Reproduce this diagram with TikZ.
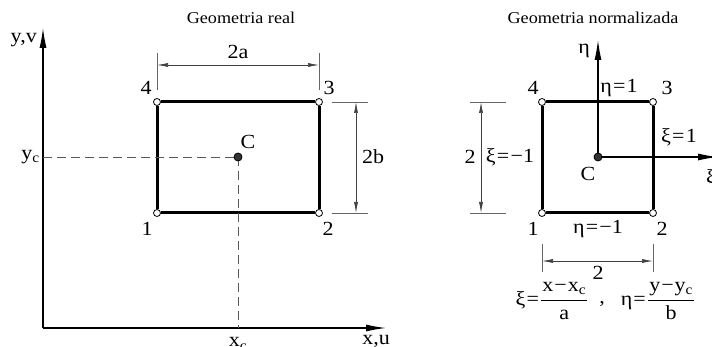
\documentclass[tikz,border=0pt]{standalone}
\usepackage{fontspec}
\setmainfont[FakeStretch=1.1]{Liberation Serif}
\usetikzlibrary{arrows.meta}
\tikzset{
  axis/.style={line width=1.2pt, -{Latex[length=20pt,width=7pt]}},
  edge/.style={line width=3pt},
  dimline/.style={line width=0.7pt, draw=black!75, {Latex[length=11pt,width=4pt]}-{Latex[length=11pt,width=4pt]}},
  ext/.style={line width=0.8pt, draw=black!60},
  dashline/.style={line width=0.9pt, draw=black!65, dash pattern=on 9pt off 5pt},
  corner/.style={circle, draw, fill=white, line width=0.8pt, minimum size=7pt, inner sep=0pt},
  cdot/.style={circle, draw, fill=black!80, line width=0.8pt, minimum size=8pt, inner sep=0pt},
  lab/.style={font=\fontsize{20}{22}\selectfont, inner sep=1pt},
  ttl/.style={font=\fontsize{16.5}{19}\selectfont, inner sep=1pt},
}
\newcommand{\eqk}{\kern1.2pt=\kern1.2pt}
\begin{document}
\begin{tikzpicture}[x=1pt,y=-1pt]
\useasboundingbox (0,0) rectangle (712,347);
% ---------- left: real geometry ----------
\node[ttl] (t1) at (241,18) {Geometria real};
\coordinate (O) at (43,328);
\coordinate (ytop) at (43,28);
\coordinate (xend) at (386,328);
\draw[axis] (O) -- (ytop);
\draw[axis] (O) -- (xend);
\node[lab, anchor=east] (yv) at (38,40) {y,v};
\node[lab] (xu) at (376,341) {x,u};

\node[corner] (r1) at (157,213) {};
\node[corner] (r2) at (319,213) {};
\node[corner] (r3) at (319,102) {};
\node[corner] (r4) at (157,102) {};
\draw[edge] (r1) -- (r2) -- (r3) -- (r4) -- (r1);

\coordinate (ycL) at (43,157);
\coordinate (xcB) at (238,328);
\draw[dashline] (ycL) -- (238,157);
\draw[dashline] (238,157) -- (xcB);
\node[cdot] (rc) at (238,157) {};
\node[lab] (rcl) at (248,142) {C};
\node[lab, anchor=east] (yc) at (41,157) {y\textsubscript{c}};
\node[lab] (xc) at (238,344) {x\textsubscript{c}};

\node[lab] (l4) at (146,88) {4};
\node[lab] (l3) at (329,88) {3};
\node[lab] (l1) at (147,229) {1};
\node[lab] (l2) at (328,229) {2};

% 2a dimension
\coordinate (a1) at (157,53); \coordinate (a1b) at (157,90);
\coordinate (a2) at (319,53); \coordinate (a2b) at (319,90);
\draw[ext] (a1) -- (a1b);
\draw[ext] (a2) -- (a2b);
\draw[dimline] (157,65) -- (319,65);
\node[lab] (d2a) at (238,52) {2a};

% 2b dimension
\coordinate (b1) at (332,102); \coordinate (b1b) at (368,102);
\coordinate (b2) at (332,213); \coordinate (b2b) at (368,213);
\draw[ext] (b1) -- (b1b);
\draw[ext] (b2) -- (b2b);
\draw[dimline] (356,102) -- (356,213);
\node[lab] (d2b) at (373,157) {2b};

% ---------- right: normalized geometry ----------
\node[ttl] (t2) at (593,18) {Geometria normalizada};
\node[corner] (n1) at (542,213) {};
\node[corner] (n2) at (653,213) {};
\node[corner] (n3) at (653,102) {};
\node[corner] (n4) at (542,102) {};
\draw[edge] (n1) -- (n2) -- (n3) -- (n4) -- (n1);

\coordinate (etatop) at (598,40);
\coordinate (xiend) at (718,157);
\draw[axis] (598,157) -- (etatop);
\draw[axis] (598,157) -- (xiend);
\node[cdot] (nc) at (598,157) {};
\node[lab] (ncl) at (588,174) {C};
\node[lab] (eta) at (584,51) {η};
\node[lab] (xi) at (711,178) {ξ};

\node[lab] (m4) at (533,88) {4};
\node[lab] (m3) at (667,88) {3};
\node[lab] (m1) at (533,229) {1};
\node[lab] (m2) at (662,229) {2};
\node[lab] (e1) at (619,88) {η\eqk 1};
\node[lab] (x1) at (679,137) {ξ\eqk 1};
\node[lab] (xm1) at (510,157) {ξ\eqk −1};
\node[lab] (em1) at (598,229) {η\eqk −1};

% vertical 2
\coordinate (c1) at (470,102); \coordinate (c1b) at (506,102);
\coordinate (c2) at (470,213); \coordinate (c2b) at (506,213);
\draw[ext] (c1) -- (c1b);
\draw[ext] (c2) -- (c2b);
\draw[dimline] (481,102) -- (481,213);
\node[lab] (dv) at (470,157) {2};

% horizontal 2
\coordinate (h1) at (542,244); \coordinate (h1b) at (542,272);
\coordinate (h2) at (653,244); \coordinate (h2b) at (653,272);
\draw[ext] (h1) -- (h1b);
\draw[ext] (h2) -- (h2b);
\draw[dimline] (542,261) -- (653,261);
\node[lab] (dh) at (598,273) {2};

% formulas
\node[lab] (f1) at (552,301) {ξ\eqk$\displaystyle\frac{\mbox{\kern1pt x\kern1pt−\kern1pt x\textsubscript{c}\kern1pt}}{\mbox{a}}$};
\node[lab] (fc) at (602,304) {,};
\node[lab] (f2) at (658,301) {η\eqk$\displaystyle\frac{\mbox{\kern1pt y\kern1pt−\kern1pt y\textsubscript{c}\kern1pt}}{\mbox{b}}$};
\end{tikzpicture}
\end{document}
